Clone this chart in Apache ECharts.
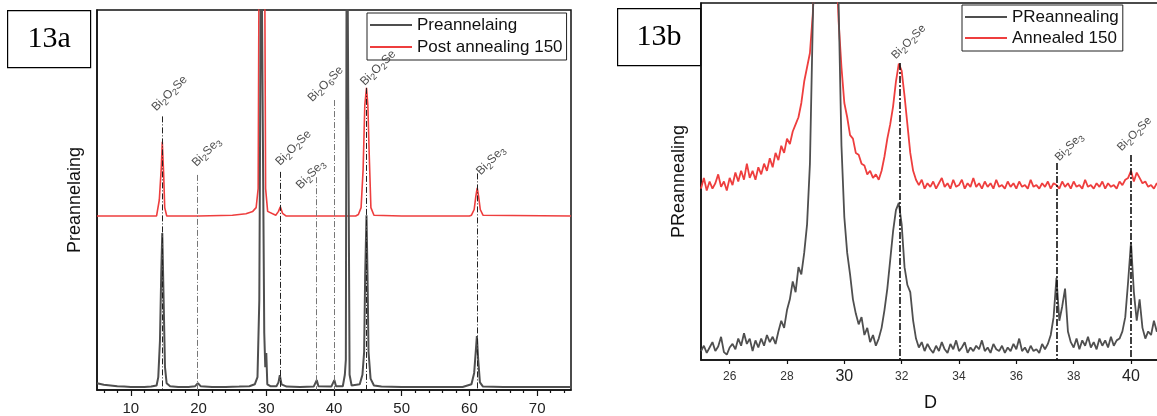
<!DOCTYPE html>
<html><head><meta charset="utf-8">
<script src="https://cdn.jsdelivr.net/npm/echarts@6/dist/echarts.min.js"></script>
<style>html,body{margin:0;padding:0;background:#fff}#c{width:1157px;height:416px}</style>
</head><body><div id="c"></div>
<script>
// ---------- Panel 13a data (2θ, relative intensity; 100 = top of frame) ----------
const preA = [[5,1.8],[6,1.4],[7,1.2],[8,1.0],[9,0.9],[10,0.8],[11,0.8],[12,0.8],[13,0.9],[13.8,1.2],[14.05,3.4],[14.3,13],[14.49,31],[14.64,41.3],[14.84,23.7],[15.04,6],[15.28,1.8],[15.8,1.0],[17,0.8],[18.5,0.8],[19.5,1.0],[19.9,1.8],[20.3,1.0],[22,0.8],[24,0.8],[26,0.9],[27.5,1.0],[28.3,1.5],[28.7,3.4],[28.97,23.7],[29.25,130],[29.45,130],[29.7,15],[29.85,6],[30.0,9.7],[30.15,1.5],[30.6,1.0],[31.5,1.0],[31.8,2],[32.0,3.9],[32.25,1.5],[33,0.9],[35,0.8],[37.0,0.9],[37.45,2.6],[37.7,1.0],[39.6,0.9],[40.05,2.6],[40.3,1.0],[41.3,1.0],[41.6,4],[41.75,8],[41.9,150],[42.1,150],[42.3,4],[42.6,1.2],[43.8,1.5],[44.2,4],[44.45,10],[44.6,30],[44.8,46],[44.95,30],[45.1,10],[45.4,3],[45.9,1.2],[47,0.9],[50,0.8],[55,0.8],[59,0.8],[60.3,1.5],[60.7,4.5],[60.95,10.5],[61.1,14.2],[61.3,7.9],[61.55,2],[62,0.9],[65,0.8],[70,0.8],[75,0.8]];
const postA = [[5,45.8],[10,45.8],[13.8,45.8],[14.2,50],[14.5,58.7],[14.64,65.3],[14.84,57],[15.0,48],[15.3,45.8],[20,45.8],[25,46],[27,46.4],[28,47],[28.5,48],[28.8,53],[28.95,120],[29.75,120],[29.9,53],[30.2,47],[31.4,46],[31.8,47],[32.07,48.2],[32.4,46.5],[32.9,45.8],[38,45.8],[43.2,45.8],[43.6,46.2],[44.0,48],[44.3,58],[44.55,75],[44.8,79.5],[45.0,75],[45.2,62],[45.45,48],[45.9,46],[50,45.8],[60,45.8],[60.3,46],[60.7,47.5],[60.95,51],[61.15,53.2],[61.35,51],[61.6,47.5],[62.0,46],[75,45.8]];
const annotA_x = [14.6, 19.8, 32.0, 37.4, 40.0, 44.8, 61.2];
const annotA_top = [72, 56.6, 57.4, 56, 76.3, 79.5, 57];
const annotA_text = ['Bi2O2Se','Bi2Se3','Bi2O2Se','Bi2Se3','Bi2O6Se','Bi2O2Se','Bi2Se3'];
const ticksA = [10,20,30,40,50,60,70];
const minorTicksA = [6,8,12,14,16,18,22,24,26,28,32,34,36,38,42,44,46,48,52,54,56,58,62,64,66,68,72,74];

// ---------- Panel 13b data ----------
const thetaB = [25.0,25.1,25.2,25.3,25.4,25.5,25.6,25.7,25.8,25.9,26.0,26.1,26.2,26.3,26.4,26.5,26.6,26.7,26.8,26.9,27.0,27.1,27.2,27.3,27.4,27.5,27.6,27.7,27.8,27.9,28.0,28.1,28.2,28.3,28.4,28.5,28.6,28.7,28.8,28.9,29.0,29.1,29.2,29.3,29.4,29.5,29.6,29.7,29.8,29.9,30.0,30.1,30.2,30.3,30.4,30.5,30.6,30.7,30.8,30.9,31.0,31.1,31.2,31.3,31.4,31.5,31.6,31.7,31.8,31.9,32.0,32.1,32.2,32.3,32.4,32.5,32.6,32.7,32.8,32.9,33.0,33.1,33.2,33.3,33.4,33.5,33.6,33.7,33.8,33.9,34.0,34.1,34.2,34.3,34.4,34.5,34.6,34.7,34.8,34.9,35.0,35.1,35.2,35.3,35.4,35.5,35.6,35.7,35.8,35.9,36.0,36.1,36.2,36.3,36.4,36.5,36.6,36.7,36.8,36.9,37.0,37.1,37.2,37.3,37.4,37.5,37.6,37.7,37.8,37.9,38.0,38.1,38.2,38.3,38.4,38.5,38.6,38.7,38.8,38.9,39.0,39.1,39.2,39.3,39.4,39.5,39.6,39.7,39.8,39.9,40.0,40.1,40.2,40.3,40.4,40.5,40.6,40.7,40.8,40.9,41.0,41.1,41.2,41.3,41.4,41.5];
const preB = [2.5,4.0,2.0,3.5,5.0,2.5,3.8,6.5,2.2,1.5,3.5,4.5,3.0,6.0,4.0,7.5,4.5,6.0,2.5,5.5,3.5,6.0,4.0,7.0,5.0,6.5,4.5,8.0,11,9,14,17,22,19,26,24,30,38,55,95,130,130,130,130,130,130,130,130,100,60,40,30,24,17,13,10,12,7,9,5,7,4,6,9,14,20,28,36,42,44,38,26,21,19,11,6,3.5,5.0,2.5,4.5,3.0,2.0,4.0,2.5,5.0,3.0,2.0,4.5,3.0,5.5,2.5,3.5,5.0,2.0,3.5,2.5,4.0,3.0,5.5,2.5,3.5,2.0,4.5,3.0,2.5,4.0,2.0,3.5,2.5,4.5,3.0,6.0,2.5,3.5,2.0,4.0,2.5,3.0,2.0,4.5,3.0,4.5,7,12,23,11,15,20,8,5,3.5,6.0,3.0,5.5,4.0,6.5,3.5,5.0,3.0,6.0,4.0,5.5,3.5,6.5,4.0,5.5,6.0,8,12,22,33,19,11,17,9,6,8,7,11,8,9,7,9,8,9,8];
const annB = [48,51,47.5,50,48,49.5,52,48.5,50,47.5,51,49,52.5,50,53,50.5,55,51,53,50.5,54,52,55,53,56.5,54,58,56,60,58,62,60.5,64,66,68,72,78,82,86,97,115,115,115,115,115,115,115,115,95,82,72,68,63,62,58,57.5,55,54.5,52,53,51,52,50.5,53,57,62,66,71,78,83,81,74,66,58,53,50.5,49,50.5,48,49.5,48.5,50,48,49.5,51,48.5,49.5,48,50.5,48.5,49,50.5,48,49.5,48.5,51,48.5,49.5,48,50,48.5,49.5,48,50.5,48.5,49,48,50,48.5,49.5,48,50,48.5,49,48,50.5,48.5,49,48,49.5,48.5,50,48,49.5,49,48,50,48.5,49.5,48,50,48.5,49,48,50.5,48.5,49,48,49.5,48.5,50,48,49.5,48.5,49,48,50,49,50.5,51,53,50,52.5,51,49.5,50,48.5,49,48,49.5,48.5,49,48,49.5,48.5,49];
const annotB_x = [31.95, 37.41, 40.0];
const annotB_top = [83.2, 55.2, 57.4];
const annotB_text = ['Bi2O2Se','Bi2Se3','Bi2O2Se'];
const ticksB = [26,28,30,32,34,36,38,40];

// ---------- styling (label nudges / line colours, not data) ----------
const labelPosA = [[-2,-1],[3,-4],[4,-2],[-12,16],[-18,6],[2,2],[7,6]];
const lineColA = ['#222','#777','#222','#777','#777','#222','#222'];
const labelPosB = [[-1,0],[6,2],[-6,0]];
const lineColB = ['#111','#111','#111'];
const GRAY = '#4f4f4f', RED = '#ee3e3e', FONT = '"Liberation Sans", Arial, sans-serif';
function chem(s){ // digits rendered as subscripts
  return s.replace(/([A-Za-z]+)|(\d+)/g, (m, a, d) => a ? '{n|' + a + '}' : '{s|' + d + '}');
}
function chemRich(fs){
  return { n:{fontSize:fs, fontFamily:FONT, color:'#1a1a1a', lineHeight:fs+2, verticalAlign:'top'},
           s:{fontSize:Math.round(fs*0.75), fontFamily:FONT, color:'#1a1a1a', lineHeight:fs+2, padding:[Math.round(fs*0.4),0,0,0], verticalAlign:'top'} };
}
function annotSeries(xs, tops, texts, pos, cols, xi, dashStyle, fs){
  return {
    type:'scatter', xAxisIndex:xi, yAxisIndex:xi, z:1, symbolSize:1, silent:true,
    itemStyle:{color:'rgba(0,0,0,0)'},
    data: xs.map((x,i)=>({value:[x, tops[i]], name:texts[i], label:{position:pos[i]}})),
    label:{show:true, formatter:p=>chem(p.name), align:'left', verticalAlign:'bottom', rotate:45, rich:chemRich(fs)},
    markLine:{silent:true, symbol:['none','none'], animation:false, label:{show:false},
      lineStyle:dashStyle,
      data: xs.map((x,i)=>[{coord:[x, tops[i]], lineStyle:{color:cols[i]}},{coord:[x, 0]}])}
  };
}

const chart = echarts.init(document.getElementById('c'), null, {renderer:'canvas'});
chart.setOption({
  animation:false,
  backgroundColor:'#fff',
  textStyle:{fontFamily:FONT},
  graphic:[
    {type:'group', left:7, top:10, children:[
      {type:'rect', shape:{x:0,y:0,width:83,height:57}, style:{fill:'#fff', stroke:'#000', lineWidth:1.2}},
      {type:'text', x:41.5, y:29, style:{text:'13a', font:'30px "Liberation Serif", serif', fill:'#000', textAlign:'center', textVerticalAlign:'middle'}}
    ]},
    {type:'group', left:617, top:8, children:[
      {type:'rect', shape:{x:0,y:0,width:83,height:57}, style:{fill:'#fff', stroke:'#000', lineWidth:1.2}},
      {type:'text', x:41.5, y:29, style:{text:'13b', font:'30px "Liberation Serif", serif', fill:'#000', textAlign:'center', textVerticalAlign:'middle'}}
    ]}
  ],
  grid:[
    {left:97, top:10, width:474, height:380, show:true, borderColor:'#111', borderWidth:1.5, containLabel:false, outerBoundsMode:'none'},
    {left:701, top:3, width:473, height:357, show:true, borderColor:'#111', borderWidth:1.5, containLabel:false, outerBoundsMode:'none'}
  ],
  legend:[
    {data:['Preannelaing','Post annealing 150'], left:367, top:13, orient:'vertical', icon:'rect', itemWidth:42, itemHeight:2, itemGap:4,
     padding:[3,4,4,3], borderColor:'#222', borderWidth:1, backgroundColor:'rgba(0,0,0,0)', selectedMode:false,
     textStyle:{fontSize:17, color:'#111', fontFamily:FONT, lineHeight:18}},
    {data:['PReannealing','Annealed 150'], left:962, top:5, orient:'vertical', icon:'rect', itemWidth:42, itemHeight:2, itemGap:3,
     padding:[3,4,4,3], borderColor:'#222', borderWidth:1, backgroundColor:'#fff', selectedMode:false,
     textStyle:{fontSize:17, color:'#111', fontFamily:FONT, lineHeight:18}}
  ],
  xAxis:[
    {type:'value', gridIndex:0, min:5, max:75, position:'bottom',
     axisLine:{show:true, onZero:false, lineStyle:{color:'#111', width:1.5}},
     axisTick:{show:true, customValues:ticksA, length:6, lineStyle:{color:'#111', width:1.2}},
     axisLabel:{show:true, customValues:ticksA, margin:11, fontSize:15, color:'#222', fontFamily:FONT},
     splitLine:{show:false}},
    {type:'value', gridIndex:1, min:25, max:41.5, position:'bottom',
     name:'D', nameLocation:'middle', nameGap:34, nameTextStyle:{fontSize:18, color:'#111', fontFamily:FONT, padding:[0,14,0,0]},
     axisLine:{show:true, onZero:false, lineStyle:{color:'#111', width:1.5}},
     axisTick:{show:true, customValues:ticksB, length:4, lineStyle:{color:'#111', width:1.2}},
     axisLabel:{show:true, customValues:ticksB, margin:8,
       formatter:v => (v===30||v===40) ? '{b|'+v+'}' : '{a|'+v+'}',
       rich:{a:{fontSize:12, color:'#333', fontFamily:FONT, lineHeight:18}, b:{fontSize:16, color:'#222', fontFamily:FONT, lineHeight:18}}},
     splitLine:{show:false}},
    {type:'value', gridIndex:0, min:5, max:75, position:'bottom',
     axisLine:{show:false}, axisLabel:{show:false}, splitLine:{show:false},
     axisTick:{show:true, customValues:minorTicksA, length:3, lineStyle:{color:'#111', width:1.2}}}
  ],
  yAxis:[
    {type:'value', gridIndex:0, min:0, max:100, name:'Preannelaing', nameLocation:'middle', nameGap:13,
     nameTextStyle:{fontSize:18, color:'#111', fontFamily:FONT},
     axisLine:{show:true, lineStyle:{color:'#111', width:1.5}}, axisTick:{show:false}, axisLabel:{show:false}, splitLine:{show:false}},
    {type:'value', gridIndex:1, min:0, max:100, name:'PReannealing', nameLocation:'middle', nameGap:13,
     nameTextStyle:{fontSize:18, color:'#111', fontFamily:FONT},
     axisLine:{show:true, lineStyle:{color:'#111', width:1.5}}, axisTick:{show:false}, axisLabel:{show:false}, splitLine:{show:false}}
  ],
  series:[
    annotSeries(annotA_x, annotA_top, annotA_text, labelPosA, lineColA, 0, {type:[6,2,1,2], color:'#333', width:1}, 12),
    {name:'Post annealing 150', type:'line', xAxisIndex:0, yAxisIndex:0, z:2, data:postA, showSymbol:false, symbol:'none', clip:true,
     lineStyle:{color:RED, width:1.6}, itemStyle:{color:RED}},
    {name:'Preannelaing', type:'line', xAxisIndex:0, yAxisIndex:0, z:3, data:preA, showSymbol:false, symbol:'none', clip:true,
     lineStyle:{color:GRAY, width:2}, itemStyle:{color:GRAY}},
    annotSeries(annotB_x, annotB_top, annotB_text, labelPosB, lineColB, 1, {type:[7,2,2,2], color:'#111', width:1.6}, 11.5),
    {name:'Annealed 150', type:'line', xAxisIndex:1, yAxisIndex:1, z:2, data:thetaB.map((x,i)=>[x, annB[i]]), showSymbol:false, symbol:'none', clip:true,
     lineStyle:{color:RED, width:1.8}, itemStyle:{color:RED}},
    {name:'PReannealing', type:'line', xAxisIndex:1, yAxisIndex:1, z:3, data:thetaB.map((x,i)=>[x, preB[i]]), showSymbol:false, symbol:'none', clip:true,
     lineStyle:{color:GRAY, width:1.8}, itemStyle:{color:GRAY}}
  ]
});
</script>
</body></html>
